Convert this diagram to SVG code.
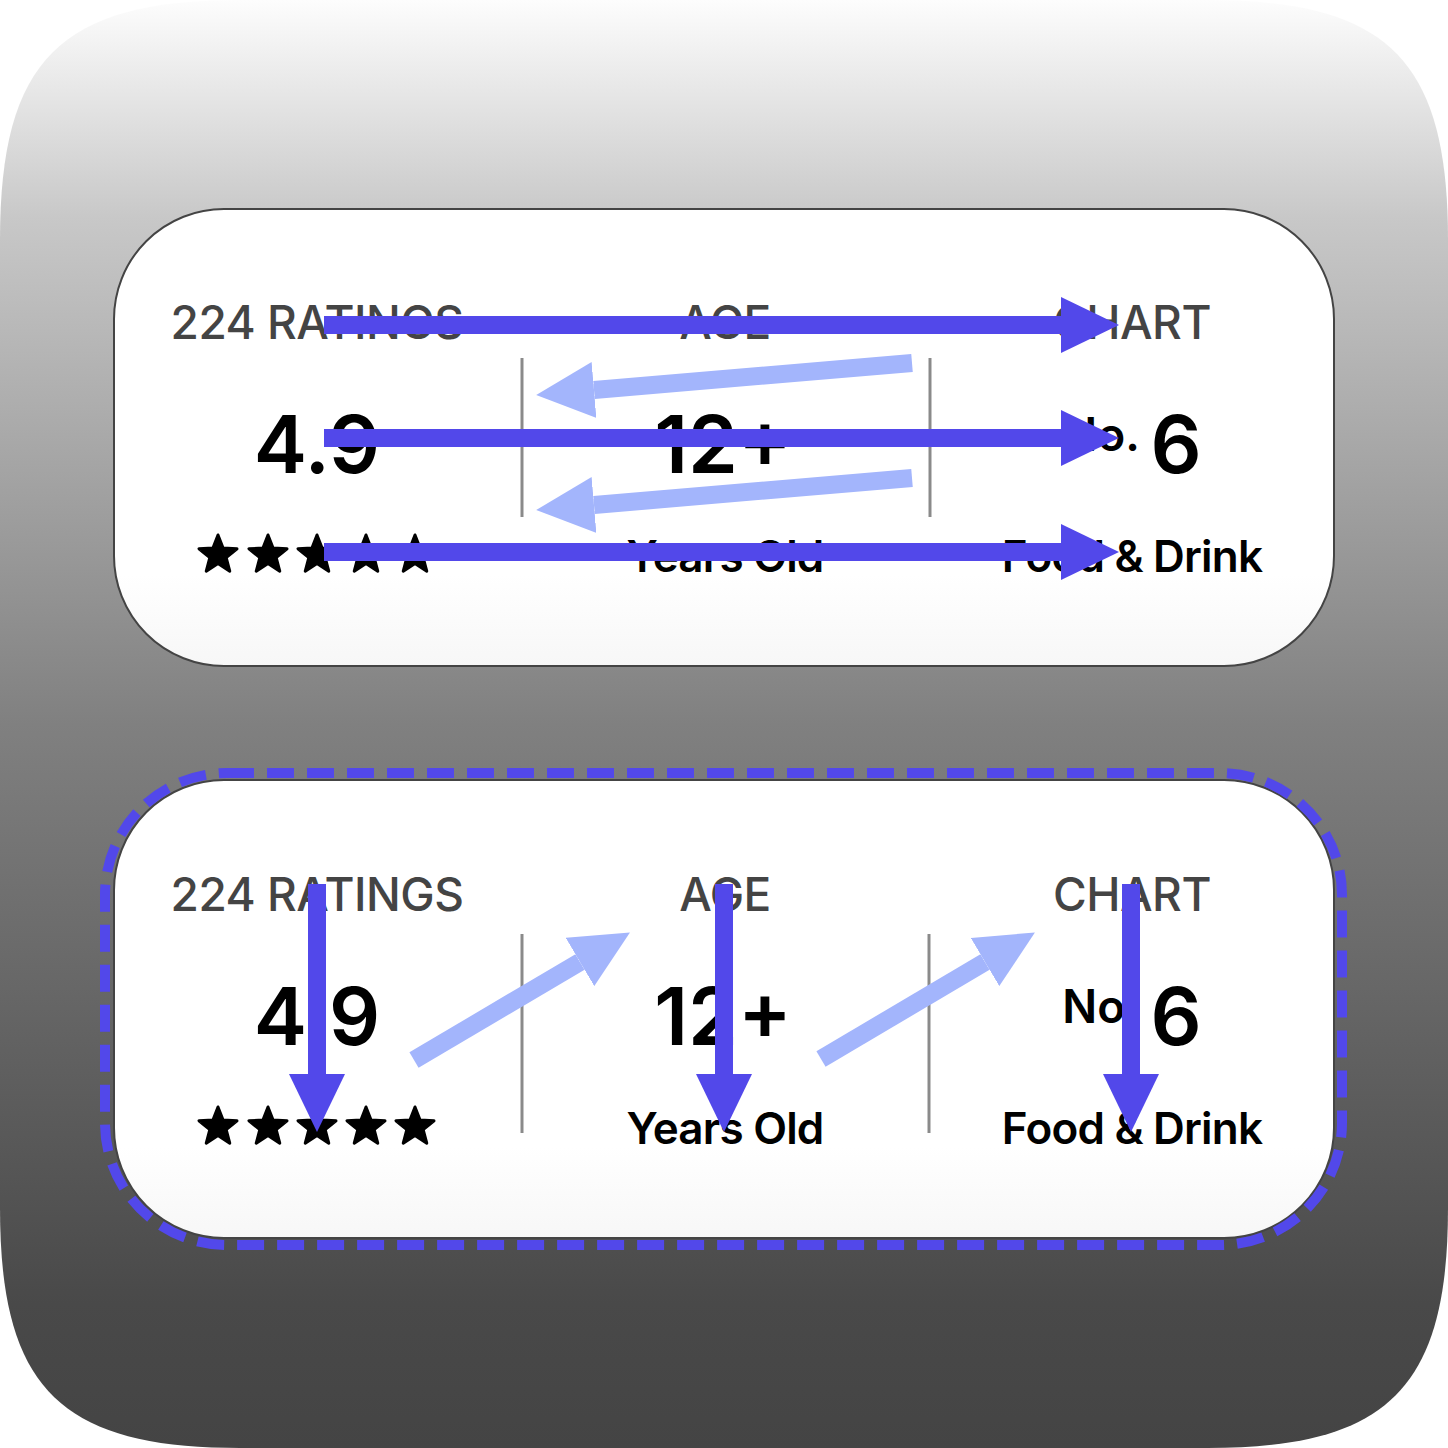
<svg xmlns="http://www.w3.org/2000/svg" width="1448" height="1448" viewBox="0 0 1448 1448">
  <defs>
    <linearGradient id="bg" x1="0" y1="0" x2="0" y2="1">
      <stop offset="0" stop-color="#fdfdfd"/>
      <stop offset="0.15" stop-color="#c8c8c8"/>
      <stop offset="0.5" stop-color="#808080"/>
      <stop offset="0.9" stop-color="#494949"/>
      <stop offset="1" stop-color="#444444"/>
    </linearGradient>
    <linearGradient id="card" x1="0" y1="0" x2="0" y2="1">
      <stop offset="0" stop-color="#ffffff"/>
      <stop offset="0.8" stop-color="#ffffff"/>
      <stop offset="1" stop-color="#f7f7f7"/>
    </linearGradient>
    <marker id="ahDark" markerUnits="userSpaceOnUse" markerWidth="58" markerHeight="56" viewBox="0 0 58 56" refX="0" refY="28" orient="auto">
      <path d="M0,0 L58,28 L0,56 Z" fill="#5248ea"/>
    </marker>
    <marker id="ahLight" markerUnits="userSpaceOnUse" markerWidth="58" markerHeight="56" viewBox="0 0 58 56" refX="0" refY="28" orient="auto">
      <path d="M0,0 L58,28 L0,56 Z" fill="#a3b5fc"/>
    </marker>
    <path id="star" d="M0,-20 L5.06,-6.96 L19.02,-6.18 L8.18,2.66 L11.76,16.18 L0,8.6 L-11.76,16.18 L-8.18,2.66 L-19.02,-6.18 L-5.06,-6.96 Z"/>
    <style>
      .cardbox { fill: url(#card); stroke: #444444; stroke-width: 2; }
      .hdr { font-family: Inter, "Liberation Sans", sans-serif; font-size: 46px; font-weight: 500; fill: #444444; text-anchor: middle; letter-spacing: -0.5px; }
      .num { font-family: Inter, "Liberation Sans", sans-serif; font-size: 80px; font-weight: 600; fill: #000000; text-anchor: middle; }
      .sub { font-family: Inter, "Liberation Sans", sans-serif; font-size: 44px; font-weight: 600; fill: #000000; text-anchor: middle; letter-spacing: -0.8px; }
      .small { font-size: 46px; font-weight: 600; }
      .div { stroke: #8a8a8a; stroke-width: 3; }
      .star { fill: #000000; stroke: #000000; stroke-width: 3; stroke-linejoin: round; }
      .dark { stroke: #5248ea; stroke-width: 18; fill: none; marker-end: url(#ahDark); }
      .light { stroke: #a3b5fc; stroke-width: 18; fill: none; marker-end: url(#ahLight); }
      .dash { fill: none; stroke: #5248ea; stroke-width: 10; stroke-dasharray: 27 13; }
    </style>
  </defs>

  <rect x="0" y="0" width="1448" height="1448" fill="#ffffff"/>
  <path id="background" d="M240,0 H1208 C1388,0 1448,60 1448,240 V1208 C1448,1388 1388,1448 1208,1448 H240 C60,1448 0,1388 0,1208 V240 C0,60 60,0 240,0 Z" fill="url(#bg)"/>

  <g id="card-top">
    <rect class="cardbox" x="114" y="209" width="1220" height="457" rx="110" ry="110"/>
    <text class="hdr" x="317" y="339">224 RATINGS</text>
    <text class="hdr" x="725" y="339">AGE</text>
    <text class="hdr" x="1132" y="339">CHART</text>
    <text class="num" x="317" y="473">4.9</text>
    <text class="num" x="723" y="473">12+</text>
    <text class="num" x="1132" y="473"><tspan class="small" dy="-22">No. </tspan><tspan dy="22">6</tspan></text>
    <g>
      <use href="#star" class="star" x="218" y="555"/>
      <use href="#star" class="star" x="268" y="555"/>
      <use href="#star" class="star" x="317" y="555"/>
      <use href="#star" class="star" x="366" y="555"/>
      <use href="#star" class="star" x="415" y="555"/>
    </g>
    <text class="sub" x="725" y="572">Years Old</text>
    <text class="sub" x="1132" y="572">Food &amp; Drink</text>
    <line class="div" x1="522" y1="358" x2="522" y2="517"/>
    <line class="div" x1="930" y1="358" x2="930" y2="517"/>
  </g>

  <g id="card-bottom">
    <rect class="cardbox" x="114" y="780" width="1220" height="458" rx="110" ry="110"/>
    <text class="hdr" x="317" y="911">224 RATINGS</text>
    <text class="hdr" x="725" y="911">AGE</text>
    <text class="hdr" x="1132" y="911">CHART</text>
    <text class="num" x="317" y="1045">4.9</text>
    <text class="num" x="723" y="1045">12+</text>
    <text class="num" x="1132" y="1045"><tspan class="small" dy="-22">No. </tspan><tspan dy="22">6</tspan></text>
    <g>
      <use href="#star" class="star" x="218" y="1127"/>
      <use href="#star" class="star" x="268" y="1127"/>
      <use href="#star" class="star" x="317" y="1127"/>
      <use href="#star" class="star" x="366" y="1127"/>
      <use href="#star" class="star" x="415" y="1127"/>
    </g>
    <text class="sub" x="725" y="1144">Years Old</text>
    <text class="sub" x="1132" y="1144">Food &amp; Drink</text>
    <line class="div" x1="522" y1="934" x2="522" y2="1133"/>
    <line class="div" x1="929" y1="934" x2="929" y2="1133"/>
  </g>

  <g id="highlight">
    <rect class="dash" x="105" y="773" width="1237" height="472" rx="122" ry="122"/>
  </g>

  <g id="connectors">
    <line class="dark" x1="324" y1="325" x2="1061" y2="325"/>
    <line class="light" x1="912" y1="363" x2="594" y2="390"/>
    <line class="dark" x1="324" y1="438" x2="1061" y2="438"/>
    <line class="light" x1="912" y1="478" x2="594" y2="505"/>
    <line class="dark" x1="324" y1="552" x2="1061" y2="552"/>

    <line class="dark" x1="317" y1="884" x2="317" y2="1074"/>
    <line class="light" x1="414" y1="1060" x2="580" y2="962"/>
    <line class="dark" x1="724" y1="884" x2="724" y2="1074"/>
    <line class="light" x1="821" y1="1059" x2="985" y2="962"/>
    <line class="dark" x1="1131" y1="884" x2="1131" y2="1074"/>
  </g>
</svg>
